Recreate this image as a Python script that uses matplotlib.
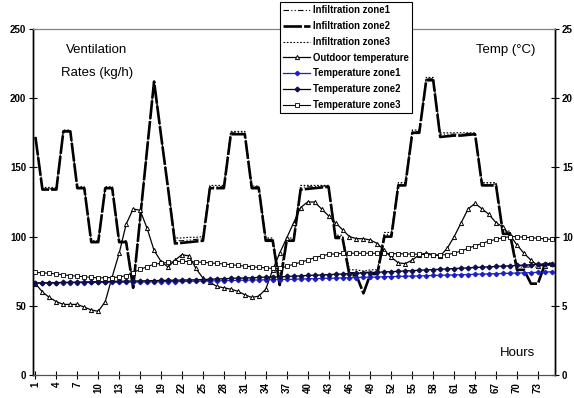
# ventilation rates and temperatures over 75 hours
import numpy as np
import matplotlib.pyplot as plt

plt.rcParams['font.family'] = ['Liberation Sans', 'DejaVu Sans']

hours = np.arange(1, 76)
xtick_hours = list(range(1, 74, 3))

# infiltration, kg/h (left axis)
infil_zone1 = [171, 134.5, 134.5, 134.5, 176.5, 176.5, 135.5, 135.5, 96.5, 96.5,
               135.5, 135.5, 96.5, 96.5, 64, 113, 163, 212, 173, 135.5,
               97, 97, 97.5, 98, 98.5, 136, 136, 136, 175, 175,
               175, 136, 136, 98, 98, 67, 98, 98, 135.5, 136,
               136, 136.5, 136.5, 100, 100, 74, 74, 74, 74.5, 74.5,
               101.5, 101.5, 138, 138, 176, 176, 214, 214, 174, 174,
               174, 174, 174.5, 174.5, 138, 138, 138, 103, 103, 78,
               78, 78, 78, 80.5, 80.5]
infil_zone2 = [172, 134, 134, 134, 176, 176, 135, 135, 96, 96,
               135, 135, 96, 96, 63, 113, 163, 212, 173, 135,
               95, 95.5, 96, 96.5, 97, 135, 135, 135, 174, 174,
               174, 135, 135, 97, 97, 65, 97, 97, 134, 134.5,
               135, 135.5, 136, 99, 99, 72, 72, 59, 73, 73,
               100, 100, 137, 137, 175, 175, 213, 213, 172, 172.5,
               173, 173, 173.5, 174, 137, 137, 137, 102, 102, 76,
               76, 66, 66, 80, 80]
infil_zone3 = [172, 135.5, 135.5, 135.5, 177, 177, 136, 136, 97, 97,
               136, 136, 97, 97, 66, 114, 164, 213, 174, 136,
               99, 99, 99.5, 99.5, 100, 137, 137, 137, 176, 176,
               176, 136.5, 136.5, 99, 99, 70, 99, 99, 137, 137,
               137, 137, 137, 101, 101, 76, 76, 75, 76, 76,
               103, 103, 139, 139, 177, 177, 215, 215, 175, 175,
               175, 175, 175, 175, 139, 139, 139, 104, 104, 79,
               79, 79, 79, 81, 81]

# temperatures, degC (right axis)
temp_outdoor = [6.6, 6.0, 5.6, 5.3, 5.1, 5.1, 5.1, 4.9, 4.7, 4.6,
                5.3, 7.1, 8.8, 10.9, 12.0, 11.9, 10.6, 9.0, 8.2, 7.8,
                8.3, 8.7, 8.6, 7.7, 7.0, 6.7, 6.4, 6.3, 6.2, 6.05,
                5.8, 5.6, 5.7, 6.2, 7.6, 8.8, 9.9, 11.0, 12.1, 12.5,
                12.5, 12.0, 11.5, 11.0, 10.5, 10.0, 9.85, 9.85, 9.75, 9.5,
                9.0, 8.5, 8.1, 8.05, 8.3, 8.7, 8.8, 8.7, 8.6, 9.15,
                10.0, 11.0, 12.0, 12.4, 12.0, 11.6, 11.0, 10.7, 10.1, 9.4,
                8.8, 8.3, 7.9, 7.9, 8.0]
temp_zone1 = [6.65, 6.65, 6.66, 6.66, 6.67, 6.67, 6.68, 6.68, 6.69, 6.69,
              6.70, 6.70, 6.71, 6.71, 6.72, 6.72, 6.73, 6.73, 6.74, 6.75,
              6.75, 6.76, 6.77, 6.78, 6.79, 6.80, 6.81, 6.82, 6.83, 6.84,
              6.85, 6.86, 6.87, 6.88, 6.89, 6.90, 6.91, 6.92, 6.94, 6.95,
              6.96, 6.98, 6.99, 7.00, 7.02, 7.03, 7.04, 7.06, 7.07, 7.08,
              7.10, 7.11, 7.12, 7.14, 7.15, 7.16, 7.18, 7.19, 7.20, 7.22,
              7.23, 7.25, 7.26, 7.28, 7.29, 7.31, 7.32, 7.34, 7.35, 7.37,
              7.38, 7.40, 7.42, 7.44, 7.46]
temp_zone2 = [6.65, 6.66, 6.67, 6.68, 6.69, 6.70, 6.71, 6.72, 6.73, 6.74,
              6.75, 6.76, 6.77, 6.78, 6.79, 6.80, 6.81, 6.82, 6.83, 6.84,
              6.85, 6.86, 6.87, 6.88, 6.90, 6.92, 6.94, 6.96, 6.98, 7.00,
              7.01, 7.03, 7.05, 7.07, 7.08, 7.10, 7.12, 7.14, 7.17, 7.19,
              7.21, 7.23, 7.26, 7.28, 7.30, 7.33, 7.35, 7.38, 7.40, 7.42,
              7.45, 7.47, 7.49, 7.52, 7.54, 7.57, 7.59, 7.62, 7.64, 7.67,
              7.69, 7.72, 7.74, 7.77, 7.79, 7.82, 7.84, 7.87, 7.89, 7.92,
              7.94, 7.97, 7.99, 8.02, 8.05]
temp_zone3 = [7.42, 7.38, 7.35, 7.30, 7.23, 7.18, 7.14, 7.10, 7.05, 7.02,
              7.02, 7.04, 7.08, 7.18, 7.40, 7.63, 7.83, 8.00, 8.07, 8.14,
              8.19, 8.22, 8.19, 8.17, 8.14, 8.10, 8.06, 8.02, 7.97, 7.92,
              7.87, 7.82, 7.78, 7.74, 7.70, 7.70, 7.85, 8.00, 8.14, 8.30,
              8.48, 8.60, 8.72, 8.75, 8.78, 8.80, 8.80, 8.80, 8.80, 8.79,
              8.78, 8.77, 8.76, 8.75, 8.74, 8.72, 8.70, 8.68, 8.67, 8.70,
              8.80, 8.96, 9.15, 9.34, 9.50, 9.68, 9.80, 9.92, 10.0, 10.0,
              9.95, 9.92, 9.88, 9.83, 9.80]

fig = plt.figure(figsize=(5.74, 3.98), dpi=100)
ax = fig.add_axes([33/574, 23/398, 522/574, 346/398])
ax2 = ax.twinx()

h1, = ax.plot(hours, infil_zone1, color='black', lw=0.8, ls=(0, (5, 2, 1, 2, 1, 2)))
h2, = ax.plot(hours, infil_zone2, color='black', lw=1.9, ls=(0, (7, 0.8)))
h3, = ax.plot(hours, infil_zone3, color='black', lw=0.8, ls=(0, (1.5, 1.5)))

h4, = ax2.plot(hours, temp_outdoor, color='black', lw=0.9, marker='^', ms=3.0,
               mfc='white', mec='black', mew=0.7)
h5, = ax2.plot(hours, temp_zone1, color='#1f1fc8', lw=0.9, marker='D', ms=2.2,
               mfc='#1f1fc8', mec='#1f1fc8')
h6, = ax2.plot(hours, temp_zone2, color='black', lw=0.9, marker='D', ms=2.4,
               mfc='#101050', mec='#101050')
h7, = ax2.plot(hours, temp_zone3, color='black', lw=0.8, marker='s', ms=2.8,
               mfc='white', mec='black', mew=0.6)

ax.set_xlim(0.65, 75.45)
ax.set_ylim(0, 250)
ax2.set_ylim(0, 25)
ax.set_yticks(range(0, 251, 50))
ax2.set_yticks(range(0, 26, 5))
ax.set_xticks(xtick_hours)
ax.set_xticklabels([str(h) for h in xtick_hours], rotation=90)

for a in (ax, ax2):
    a.tick_params(direction='inout', length=6, width=0.8, labelsize=7, pad=2)
    for lab in a.get_xticklabels() + a.get_yticklabels():
        lab.set_fontweight('bold')
    a.spines['top'].set_color('#808080')
    a.spines['left'].set_linewidth(1.0)
    a.spines['right'].set_linewidth(1.0)
    a.spines['bottom'].set_color('#505050')

ax.text(0.063, 0.93, 'Ventilation', transform=ax.transAxes, fontsize=9.5)
ax.text(0.053, 0.865, 'Rates (kg/h)', transform=ax.transAxes, fontsize=9.5)
ax2.text(0.848, 0.93, 'Temp (°C)', transform=ax.transAxes, fontsize=9.5)
ax2.text(0.895, 0.055, 'Hours', transform=ax.transAxes, fontsize=9.5)

handles = [h1, h2, h3, h4, h5, h6, h7]
labels = ['Infiltration zone1', 'Infiltration zone2', 'Infiltration zone3',
          'Outdoor temperature', 'Temperature zone1', 'Temperature zone2',
          'Temperature zone3']
leg = fig.legend(handles, labels, loc='upper left', bbox_to_anchor=(280/574, 396/398),
                 frameon=True, fancybox=False, edgecolor='black', framealpha=1,
                 prop={'size': 6.9, 'weight': 'bold'}, handlelength=2.8,
                 handletextpad=0.3, labelspacing=0.6, borderpad=0.35,
                 borderaxespad=0)
leg.get_frame().set_linewidth(0.8)

fig.savefig('out.png', dpi=100)
